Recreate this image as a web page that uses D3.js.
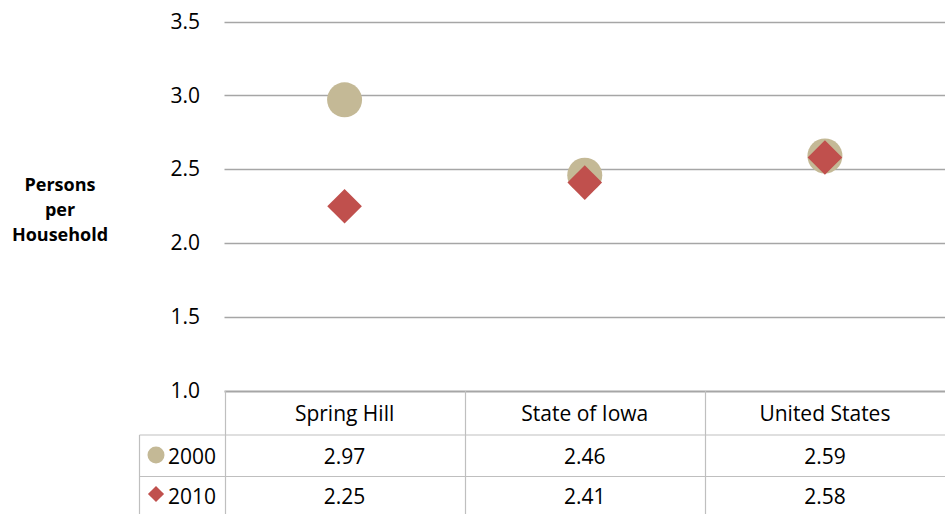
<!DOCTYPE html>
<html>
<head>
<meta charset="utf-8">
<script src="https://cdn.jsdelivr.net/npm/d3@7/dist/d3.min.js"></script>
<style>
  html, body { margin: 0; padding: 0; background: #fff; }
  svg { display: block; font-family: "Open Sans", sans-serif; }
</style>
</head>
<body>
<svg id="chart" width="945" height="514"></svg>
<script>
// chart data
const categories = ["Spring Hill", "State of Iowa", "United States"];
const seriesNames = ["2000", "2010"];
const values2000 = [2.97, 2.46, 2.59];
const values2010 = [2.25, 2.41, 2.58];
const yTicks = [1.0, 1.5, 2.0, 2.5, 3.0, 3.5];
const axisTitle = ["Persons", "per", "Household"];

const svg = d3.select("#chart");

const plotLeft = 224.5, plotRight = 945, plotTop = 21.5, plotBottom = 391;
const headerBottom = 435, row1Bottom = 476.5, tableBottom = 518, legendLeft = 139.5;

const x = d3.scaleBand().domain(categories).range([plotLeft, plotRight]);
const y = d3.scaleLinear().domain([1, 3.5]).range([plotBottom, plotTop]);

// gridlines
svg.append("g")
  .selectAll("line")
  .data(yTicks)
  .join("line")
  .attr("x1", plotLeft)
  .attr("x2", plotRight)
  .attr("y1", d => Math.round(y(d)) + 0.5)
  .attr("y2", d => Math.round(y(d)) + 0.5)
  .attr("stroke", "#a6a6a6")
  .attr("stroke-width", d => d === 1 ? 2 : 1.5);

// y tick labels
svg.append("g")
  .selectAll("text")
  .data(yTicks)
  .join("text")
  .attr("x", 200)
  .attr("y", d => y(d))
  .attr("dy", "0.34em")
  .attr("text-anchor", "end")
  .attr("font-size", "21px")
  .attr("fill", "#000")
  .text(d => d.toFixed(1));

// axis title
svg.append("text")
  .attr("text-anchor", "middle")
  .attr("font-size", "18px")
  .attr("font-weight", "bold")
  .selectAll("tspan")
  .data(axisTitle)
  .join("tspan")
  .attr("x", 60)
  .attr("y", (d, i) => 191 + i * 25)
  .text(d => d);

// data table lines
const tbl = svg.append("g").attr("stroke", "#bfbfbf").attr("stroke-width", 1.2);
// vertical column dividers
tbl.selectAll("line.col")
  .data(categories)
  .join("line")
  .attr("class", "col")
  .attr("x1", d => Math.round(x(d)) + 0.5)
  .attr("x2", d => Math.round(x(d)) + 0.5)
  .attr("y1", plotBottom)
  .attr("y2", tableBottom);
// legend column left border
tbl.append("line")
  .attr("x1", legendLeft).attr("x2", legendLeft)
  .attr("y1", headerBottom).attr("y2", tableBottom);
// row lines
tbl.selectAll("line.row")
  .data([headerBottom, row1Bottom])
  .join("line")
  .attr("class", "row")
  .attr("x1", legendLeft)
  .attr("x2", plotRight)
  .attr("y1", d => d)
  .attr("y2", d => d);

// header text
svg.append("g")
  .selectAll("text")
  .data(categories)
  .join("text")
  .attr("x", d => x(d) + x.bandwidth() / 2)
  .attr("y", 420.5)
  .attr("text-anchor", "middle")
  .attr("font-size", "21px")
  .text(d => d);

// value rows
const rows = [values2000, values2010];
const rowBaselines = [463.5, 503.5];
rows.forEach((vals, r) => {
  svg.append("g")
    .selectAll("text")
    .data(vals)
    .join("text")
    .attr("x", (d, i) => x(categories[i]) + x.bandwidth() / 2)
    .attr("y", rowBaselines[r])
    .attr("text-anchor", "middle")
    .attr("font-size", "21px")
    .text(d => d.toFixed(2));
});

// legend keys in table
const tan = "#c4b996", red = "#c0504d";
svg.append("circle")
  .attr("cx", 156)
  .attr("cy", 455)
  .attr("r", 8.5)
  .attr("fill", tan);
svg.append("path")
  .attr("d", d3.symbol().type(d3.symbolSquare).size(130))
  .attr("transform", "translate(156,494) rotate(45)")
  .attr("fill", red);
svg.append("g")
  .selectAll("text")
  .data(seriesNames)
  .join("text")
  .attr("x", 168)
  .attr("y", (d, i) => rowBaselines[i])
  .attr("font-size", "21px")
  .text(d => d);

// markers
const cx = c => x(c) + x.bandwidth() / 2;
svg.append("g")
  .selectAll("circle")
  .data(values2000)
  .join("circle")
  .attr("cx", (d, i) => cx(categories[i]))
  .attr("cy", d => y(d))
  .attr("r", 17.5)
  .attr("fill", tan);

svg.append("g")
  .selectAll("path")
  .data(values2010)
  .join("path")
  .attr("d", d3.symbol().type(d3.symbolSquare).size(600))
  .attr("transform", (d, i) => `translate(${cx(categories[i])},${y(d)}) rotate(45)`)
  .attr("fill", red);
</script>
</body>
</html>
